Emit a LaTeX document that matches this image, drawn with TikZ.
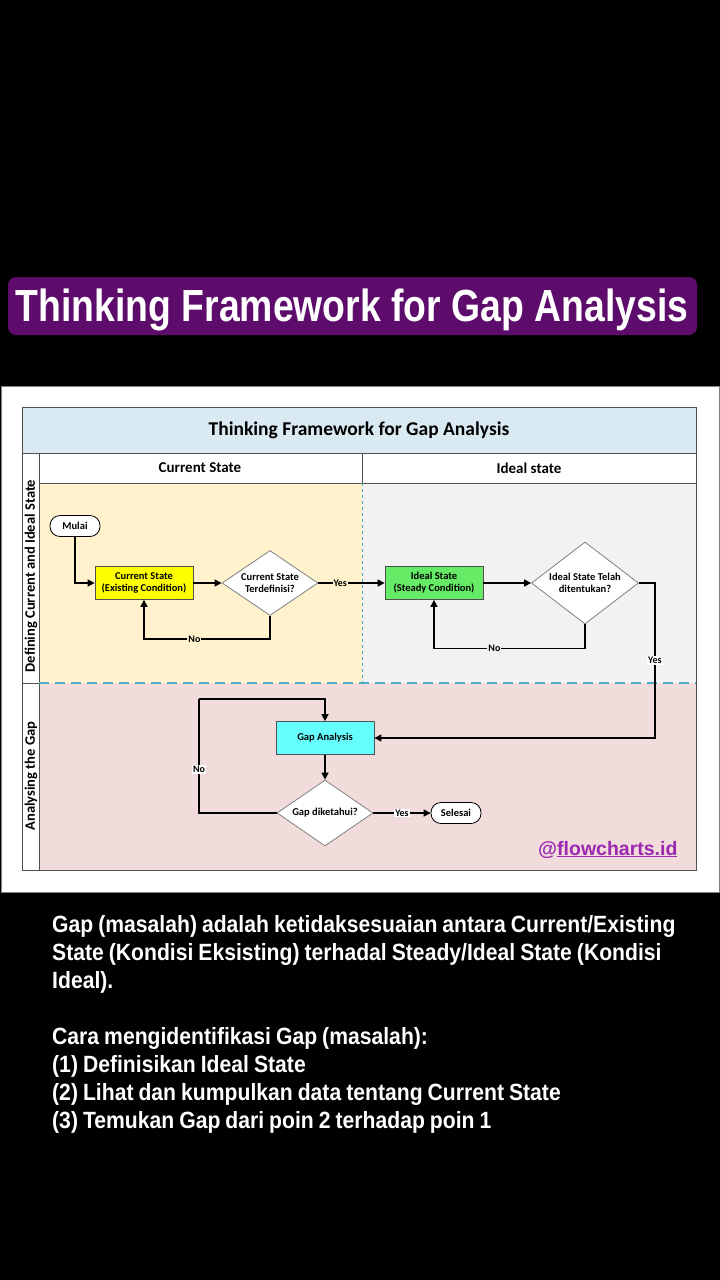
\documentclass[tikz,border=0pt]{standalone}
\usepackage{fontspec}
\setmainfont{Carlito}
\newfontfamily\bannerfont[FakeStretch=0.83]{Liberation Sans}
\newfontfamily\notefont[FakeStretch=0.9]{Liberation Sans}
\newfontfamily\tagfont{Liberation Sans}
\usetikzlibrary{shapes.geometric,arrows.meta}

\definecolor{bannerpurple}{RGB}{94,12,108}
\definecolor{titleblue}{RGB}{218,234,242}
\definecolor{laneyellow}{RGB}{255,242,204}
\definecolor{lanegray}{RGB}{242,242,242}
\definecolor{lanepink}{RGB}{242,220,219}
\definecolor{dashteal}{RGB}{75,172,198}
\definecolor{boxyellow}{RGB}{255,255,0}
\definecolor{boxgreen}{RGB}{102,235,102}
\definecolor{boxcyan}{RGB}{102,255,255}
\definecolor{tagpurple}{RGB}{156,39,176}
\definecolor{framegray}{RGB}{80,80,80}

\tikzset{
  proc/.style={draw=framegray, line width=0.8pt, minimum width=98pt, minimum height=33pt,
    inner sep=1pt, align=center, font=\fontsize{10.5}{12}\selectfont\bfseries},
  decision/.style={draw=gray, line width=0.8pt, fill=white, diamond, aspect=1.45, inner sep=0pt,
    align=center, font=\fontsize{10.5}{11.5}\selectfont\bfseries},
  term/.style={draw=black, line width=0.8pt, fill=white, rounded corners=10pt, minimum width=50pt,
    minimum height=21pt, inner sep=1pt, font=\fontsize{10.5}{12}\selectfont\bfseries},
  flow/.style={line width=1.4pt, -{Triangle[length=7pt,width=7pt]}},
  lbl/.style={fill=white, inner sep=1pt, font=\fontsize{10}{11}\selectfont\bfseries},
  lanehead/.style={font=\fontsize{15}{17}\selectfont\bfseries},
}

\begin{document}
\begin{tikzpicture}[x=1pt, y=-1pt]
    \useasboundingbox (0,0) rectangle (720,1280);
    \fill[black] (0,0) rectangle (720,1280);

    % Banner
    \fill[bannerpurple, rounded corners=8pt] (8,277) rectangle (697,335);
    \node[anchor=base, text=white, font=\bannerfont\bfseries\fontsize{45}{50}\selectfont] (banner)
        at (352,321) {Thinking Framework for Gap Analysis};

    % White panel
    \draw[gray, fill=white] (1,386) rectangle (719,892);

    % Title band, header row and lanes
    \fill[titleblue] (22,407) rectangle (696,453);
    \fill[white] (22,453) rectangle (696,870);
    \fill[laneyellow] (39,483) rectangle (362,683);
    \fill[lanegray] (362,483) rectangle (696,683);
    \fill[lanepink] (39,683) rectangle (696,870);
    \draw[framegray] (22,407) rectangle (696,870);
    \draw[framegray] (22,453) -- (696,453);
    \draw[framegray] (39,483) -- (696,483);
    \draw[framegray] (39,453) -- (39,870);
    \draw[framegray] (362,453) -- (362,483);
    \draw[framegray] (22,683) -- (39,683);
    \draw[dashteal, dashed] (362,483) -- (362,683);
    \draw[dashteal, line width=1.2pt, dash pattern=on 10pt off 6pt] (39,683) -- (696,683);

    \node[font=\fontsize{19.5}{21}\selectfont\bfseries] (title) at (359,430) {Thinking Framework for Gap Analysis};
    \node[lanehead] (headcur) at (200,468) {Current State};
    \node[lanehead] (headideal) at (529,468) {Ideal state};
    \node[lanehead, font=\fontsize{14.5}{16}\selectfont\bfseries, rotate=90] (lanedef) at (31,576) {Defining Current and Ideal State};
    \node[lanehead, font=\fontsize{14.5}{16}\selectfont\bfseries, rotate=90] (lanegap) at (31,776) {Analysing the Gap};

    % Flow nodes
    \node[term] (start) at (75,526) {Mulai};
    \node[proc, fill=boxyellow] (cur) at (144,583) {Current State\\(Existing Condition)};
    \node[decision, minimum width=96pt, minimum height=65pt] (curq) at (270,583) {Current State\\Terdefinisi?};
    \node[proc, fill=boxgreen] (ideal) at (434,583) {Ideal State\\(Steady Condition)};
    \node[decision, minimum width=107pt, minimum height=82pt] (idealq) at (585,583) {Ideal State Telah\\ditentukan?};
    \node[proc, fill=boxcyan] (gap) at (325,738) {Gap Analysis};
    \node[decision, minimum width=96pt, minimum height=66pt] (gapq) at (325,813) {Gap diketahui?};
    \node[term] (done) at (456,813) {Selesai};
    \coordinate (noturn) at (199,699);

    % Connectors
    \draw[flow] (start.south) |- (cur.west);
    \draw[flow] (cur.east) -- (curq.west);
    \draw[flow] (curq.south) -- ++(0,23) -| node[lbl, fill=laneyellow, pos=0.3] {No} (cur.south);
    \draw[flow] (curq.east) -- node[lbl, fill=laneyellow, pos=0.33] {Yes} (ideal.west);
    \draw[flow] (ideal.east) -- (idealq.west);
    \draw[flow] (idealq.south) -- ++(0,24) -| node[lbl, fill=lanegray, pos=0.3] {No} (ideal.south);
    \draw[flow] (idealq.east) -- ++(16,0) |- node[lbl, pos=0.25] {Yes} (gap.east);
    \draw[flow] (gap.south) -- (gapq.north);
    \draw[line width=1.4pt] (gapq.west) -| node[lbl, pos=0.69] {No} (noturn);
    \draw[flow] (noturn) -| (gap.north);
    \draw[flow] (gapq.east) -- node[lbl, pos=0.5] {Yes} (done.west);

    % Tag
    \node[anchor=base east, text=tagpurple, font=\tagfont\bfseries\fontsize{19.5}{22}\selectfont] (tag)
        at (681,855) {@\underline{flowcharts.id}};

    % Note below the panel
    \node[anchor=base west, text width=680pt, align=left, inner sep=0pt, text=white,
        font=\notefont\bfseries\fontsize{23.5}{28}\selectfont] (note) at (52,932)
        {\spaceskip=5pt\relax
         Gap (masalah) adalah ketidaksesuaian antara Current/Existing\\
         State (Kondisi Eksisting) terhadal Steady/Ideal State (Kondisi\\
         Ideal).\\[28pt]
         Cara mengidentifikasi Gap (masalah):\\
         (1) Definisikan Ideal State\\
         (2) Lihat dan kumpulkan data tentang Current State\\
         (3) Temukan Gap dari poin 2 terhadap poin 1};
\end{tikzpicture}
\end{document}
